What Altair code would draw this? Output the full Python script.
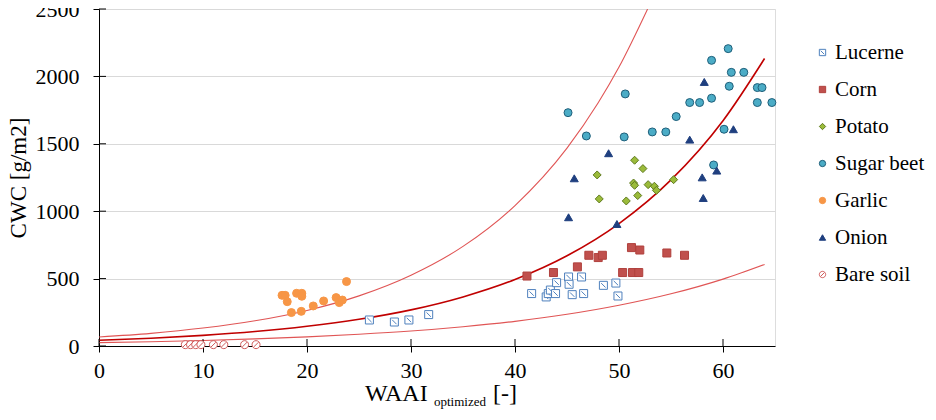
import altair as alt
import pandas as pd

lucerne_x = [26.0, 28.4, 29.8, 31.7, 41.6, 43.0, 43.2, 43.4, 43.9, 44.0, 45.15, 45.2, 46.4, 45.5, 46.6, 48.5, 49.7, 49.9]
lucerne_y = [193, 178, 193, 233, 389, 364, 389, 415, 389, 470, 512, 458, 512, 381, 389, 450, 467, 371]

corn_x = [41.15, 43.7, 46.0, 47.1, 48.0, 48.4, 51.2, 52.0, 54.6, 56.3, 50.35, 51.3, 51.9]
corn_y = [519, 545, 587, 673, 656, 673, 730, 712, 690, 673, 545, 545, 545]

potato_x = [51.5, 52.3, 47.9, 51.4, 51.5, 52.8, 53.4, 53.6, 55.25, 48.1, 50.7, 51.8]
potato_y = [1378, 1316, 1269, 1209, 1192, 1197, 1185, 1155, 1234, 1091, 1076, 1116]

sugarbeet_x = [45.1, 46.86, 50.6, 50.5, 53.2, 54.5, 55.5, 56.8, 57.75, 58.9, 58.9, 60.5, 60.6, 60.8, 62.0, 63.3, 63.75, 63.3, 64.7, 60.1, 59.1]
sugarbeet_y = [1731, 1558, 1870, 1551, 1588, 1588, 1702, 1806, 1806, 1838, 2119, 2206, 1927, 2030, 2030, 1917, 1917, 1806, 1806, 1608, 1343]

garlic_x = [17.6, 17.9, 18.1, 19.0, 19.5, 19.5, 18.5, 19.45, 20.6, 21.6, 22.8, 23.1, 23.4, 23.8]
garlic_y = [376, 376, 329, 391, 391, 369, 248, 257, 297, 334, 359, 322, 341, 478]

onion_x = [58.2, 61.0, 56.8, 49.0, 45.7, 58.0, 59.4, 58.1, 45.15, 49.8]
onion_y = [1959, 1608, 1531, 1430, 1244, 1251, 1301, 1098, 955, 905]

baresoil_x = [8.3, 8.8, 9.3, 9.8, 11.0, 12.0, 14.0, 15.1]
baresoil_y = [10, 10, 10, 10, 10, 10, 10, 10]

# ---- fitted curves, values ----
curve_x = [0, 5, 10, 15, 20, 25, 30, 35, 40, 45, 50, 55, 60, 64]
curve_mid = [43, 58, 79, 107, 146, 198, 268, 364, 493, 669, 908, 1232, 1671, 2133]
curve_low = [25, 32, 41, 53, 68, 87, 111, 143, 183, 235, 302, 387, 496, 605]
upper_x = [0, 5, 10, 15, 20, 25, 30, 35, 40, 45, 48, 50, 52.75]
upper_y = [67, 94, 133, 187, 264, 372, 525, 739, 1042, 1468, 1804, 2069, 2500]

x_ticks = [0, 10, 20, 30, 40, 50, 60]
y_ticks = [0, 500, 1000, 1500, 2000, 2500]

crops = ["Lucerne", "Corn", "Potato", "Sugar beet", "Garlic", "Onion", "Bare soil"]
fills = ["#ffffff", "#c0504d", "#9bbb3a", "#4bacc6", "#f79646", "#1f3f7f", "#ffffff"]
strokes = ["#4f81bd", "#b0403d", "#5f7a1f", "#1f5f7a", "#f79646", "#1f3f7f", "#d05a5a"]
shapes = [
    "M-1,-1H1V1H-1Z M-0.55,-0.55L0.55,0.55",
    "square",
    "diamond",
    "circle",
    "circle",
    "triangle-up",
    "M1,0A1,1,0,1,1,-1,0A1,1,0,1,1,1,0Z M-0.6,0.6L0.6,-0.6",
]

FONT = "Liberation Serif"

rows = []
for name, xs, ys in [
    ("Lucerne", lucerne_x, lucerne_y),
    ("Corn", corn_x, corn_y),
    ("Potato", potato_x, potato_y),
    ("Sugar beet", sugarbeet_x, sugarbeet_y),
    ("Garlic", garlic_x, garlic_y),
    ("Onion", onion_x, onion_y),
    ("Bare soil", baresoil_x, baresoil_y),
]:
    for xv, yv in zip(xs, ys):
        rows.append({"crop": name, "x": xv, "y": yv})
pts = pd.DataFrame(rows)

curves = pd.DataFrame(
    [{"c": "mid", "x": a, "y": b} for a, b in zip(curve_x, curve_mid)]
    + [{"c": "low", "x": a, "y": b} for a, b in zip(curve_x, curve_low)]
    + [{"c": "up", "x": a, "y": b} for a, b in zip(upper_x, upper_y)]
)

xscale = alt.Scale(domain=[0, 65], nice=False, zero=True)
yscale = alt.Scale(domain=[0, 2500], nice=False)

xax = alt.Axis(values=x_ticks, grid=False, domainColor="black", tickColor="black",
               tickSize=6, labelFont=FONT, labelFontSize=22, labelColor="black",
               labelPadding=8, title=None, labelFlush=False, format="d")
yax = alt.Axis(values=y_ticks, grid=True, gridColor="#d9d9d9", domainColor="black",
               tickColor="black", tickSize=6, labelFont=FONT, labelFontSize=22,
               labelColor="black", labelPadding=14, title="CWC [g/m2]", format="d",
               titleFont=FONT, titleFontSize=23, titleFontWeight="normal",
               titleColor="black", titlePadding=5)

base_curve = alt.Chart(curves).encode(
    x=alt.X("x:Q", scale=xscale, axis=xax),
    y=alt.Y("y:Q", scale=yscale, axis=yax),
)
mid_line = base_curve.transform_filter(alt.datum.c == "mid").mark_line(
    color="#c00000", strokeWidth=1.6, interpolate="monotone", clip=True)
low_line = base_curve.transform_filter(alt.datum.c == "low").mark_line(
    color="#e05555", strokeWidth=1.1, interpolate="monotone", clip=True)
up_line = base_curve.transform_filter(alt.datum.c == "up").mark_line(
    color="#e05555", strokeWidth=1.1, interpolate="monotone", clip=True)

ydf = pd.DataFrame({"v": y_ticks})
xdf = pd.DataFrame({"v": x_ticks})
y_inner = alt.Chart(ydf).mark_rule(color="black", strokeWidth=1).encode(
    y=alt.Y("v:Q", scale=yscale), x=alt.value(0), x2=alt.value(7))
x_inner = alt.Chart(xdf).mark_rule(color="black", strokeWidth=1).encode(
    x=alt.X("v:Q", scale=xscale), y=alt.value(337), y2=alt.value(330))

points = alt.Chart(pts).mark_point(filled=True, size=64, strokeWidth=1, opacity=1).encode(
    x=alt.X("x:Q", scale=xscale),
    y=alt.Y("y:Q", scale=yscale),
    shape=alt.Shape("crop:N", scale=alt.Scale(domain=crops, range=shapes),
                    sort=crops,
                    legend=alt.Legend(title=None, orient="none", legendX=713, legendY=33,
                                      labelFont=FONT, labelFontSize=21, labelColor="black",
                                      symbolSize=40, labelOffset=2, rowPadding=15,
                                      padding=0, symbolStrokeWidth=1)),
    fill=alt.Fill("crop:N", scale=alt.Scale(domain=crops, range=fills), sort=crops),
    stroke=alt.Stroke("crop:N", scale=alt.Scale(domain=crops, range=strokes), sort=crops),
)

t1 = alt.Chart(pd.DataFrame({"t": ["WAAI"]})).mark_text(
    font=FONT, fontSize=24, align="left", baseline="alphabetic", color="black").encode(
    x=alt.value(266), y=alt.value(392), text="t:N")
t2 = alt.Chart(pd.DataFrame({"t": ["optimized"]})).mark_text(
    font=FONT, fontSize=13, align="left", baseline="alphabetic", color="black").encode(
    x=alt.value(335), y=alt.value(397), text="t:N")
t3 = alt.Chart(pd.DataFrame({"t": ["[-]"]})).mark_text(
    font=FONT, fontSize=24, align="left", baseline="alphabetic", color="black").encode(
    x=alt.value(394), y=alt.value(392), text="t:N")

chart = alt.layer(low_line, mid_line, up_line, y_inner, x_inner, points, t1, t2, t3).properties(
    width=676, height=337,
    padding={"left": 91, "top": 1, "right": 153, "bottom": 66},
    autosize=alt.AutoSizeParams(type="none"),
).configure_view(stroke=None).configure(background="white")

chart.save("out.html", embed_options={"renderer": "svg", "actions": False})
